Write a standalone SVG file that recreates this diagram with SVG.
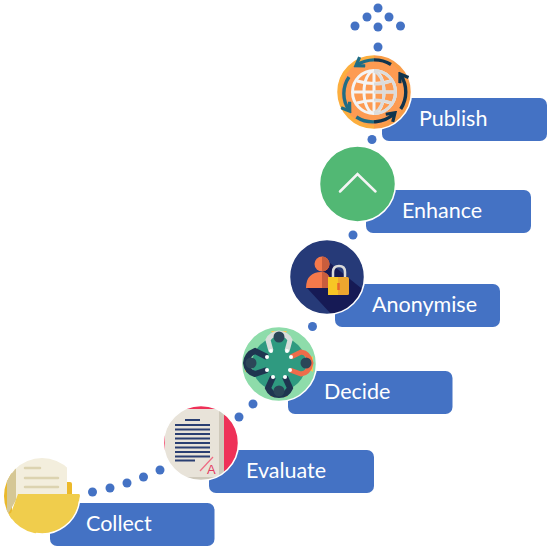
<svg xmlns="http://www.w3.org/2000/svg" width="549" height="549" viewBox="0 0 549 549">
<style>
.bar{fill:#4472c4}
.lbl{font-family:"Lato","Open Sans",sans-serif;font-size:21.500px;fill:#fff}
.dot{fill:#4472c4}
.ring{fill:none;stroke:#fff;stroke-width:1.500}
</style>
<defs>
<clipPath id="c1"><circle cx="42" cy="496" r="38"/></clipPath>
<clipPath id="c2"><circle cx="201" cy="443" r="37.500"/></clipPath>
<clipPath id="c4"><circle cx="327" cy="277" r="37.500"/></clipPath>
<linearGradient id="split" gradientUnits="userSpaceOnUse" x1="336" y1="0" x2="412" y2="0"><stop offset="0.5" stop-color="#1f6d85"/><stop offset="0.5" stop-color="#10344d"/></linearGradient>
<marker id="ahT" viewBox="0 0 10 10" refX="7" refY="5" markerWidth="3.800" markerHeight="3.800" orient="auto"><path d="M2 1L8 5L2 9" fill="none" stroke="#1f6d85" stroke-width="2.500"/></marker>
<marker id="ahN" viewBox="0 0 10 10" refX="7" refY="5" markerWidth="3.800" markerHeight="3.800" orient="auto"><path d="M2 1L8 5L2 9" fill="none" stroke="#10344d" stroke-width="2.500"/></marker>
</defs>
<g id="connectors">
<circle class="dot" cx="378" cy="8" r="4.500"/><circle class="dot" cx="367" cy="17" r="4.500"/><circle class="dot" cx="389" cy="17" r="4.500"/>
<circle class="dot" cx="355" cy="26" r="4.500"/><circle class="dot" cx="378" cy="27" r="4.500"/><circle class="dot" cx="400.500" cy="26" r="4.500"/>
<circle class="dot" cx="378" cy="47" r="4.500"/><circle class="dot" cx="372" cy="139.500" r="4.500"/><circle class="dot" cx="353" cy="235" r="4.500"/>
<circle class="dot" cx="312.500" cy="326.500" r="4.500"/><circle class="dot" cx="253" cy="404" r="4.500"/><circle class="dot" cx="239" cy="417" r="4.500"/>
<circle class="dot" cx="160" cy="470" r="4.500"/><circle class="dot" cx="143.500" cy="477" r="4.500"/><circle class="dot" cx="127" cy="483" r="4.500"/>
<circle class="dot" cx="110" cy="488" r="4.500"/><circle class="dot" cx="92.500" cy="492" r="4.500"/>
</g>
<g id="collect">
<rect class="bar" x="50" y="503" width="164.500" height="43" rx="7"/>
<text class="lbl" x="86" y="531">Collect</text>
<g clip-path="url(#c1)">
<rect x="3" y="458" width="78" height="78" fill="#fff"/>
<rect x="3" y="470" width="9" height="50" fill="#eab92b"/>
<path d="M7 475L16 460V500L7 516Z" fill="#d5c795"/>
<path d="M16 458H67V500H16Z" fill="#f3eedd"/>
<path d="M67 482H70Q72 482 72 484V496H67Z" fill="#ecb92a"/>
<path d="M25 468H40M25 478H58M25 487H58" stroke="#dcd3b0" stroke-width="2.500" stroke-linecap="round"/>
<path d="M18 494H79Q80 494 80 496L72 540H0V516L11 513Z" fill="#f0cd4c"/>
</g>
<path class="ring" d="M79.500 501A38 38 0 0 1 36 533.600"/>
</g>
<g id="evaluate">
<rect class="bar" x="209" y="450" width="165" height="43" rx="7"/>
<text class="lbl" x="246" y="478">Evaluate</text>
<circle cx="201" cy="443" r="37.500" fill="#e8e3d9"/>
<g clip-path="url(#c2)">
<rect x="163" y="405" width="76" height="4" fill="#ee3158"/>
<rect x="163" y="405" width="2" height="76" fill="#ee3158"/>
<rect x="224" y="405" width="15" height="76" fill="#ee3158"/>
<rect x="219" y="405" width="5" height="76" fill="#cfc9bb"/>
<rect x="163" y="477" width="60" height="4" fill="#cfc9bb"/>
</g>
<path d="M185 420H200M175 425H210M175 429.500H210M175 434H210M175 438.500H210M175 443H210M175 447.500H210M175 452H210M175 456.500H210M175 460.500H195" stroke="#2a3f72" stroke-width="2"/>
<path d="M200 471L213 457" stroke="#ee6a82" stroke-width="1.200"/>
<text x="207" y="473.500" font-family="Liberation Sans,sans-serif" font-size="13" fill="#e33a60">A</text>
<circle class="ring" cx="201" cy="443" r="37.500"/>
</g>
<g id="decide">
<rect class="bar" x="288" y="371" width="164.500" height="43" rx="7"/>
<text class="lbl" x="324" y="399">Decide</text>
<g transform="translate(279 364)">
<circle r="37.500" fill="#8edcaa"/>
<path d="M-8 -33H8L5 -28H-5ZM-8 33H8L5 28H-5ZM-34 -8V8L-29 5V-5ZM34 -8V8L29 5V-5Z" fill="#f3c958"/>
<circle r="27" fill="#2f9a80"/>
<path d="M-8 -13L-11 -24Q-8 -30 0 -31Q8 -30 11 -24L8 -13" fill="none" stroke="#d9dedb" stroke-width="5"/>
<path d="M12 -7L22 -12Q30 -11 32 -1Q30 9 22 10L11 6" fill="none" stroke="#ef6c4a" stroke-width="5"/>
<path d="M-12 -7L-24 -13Q-32 -10 -33 -1Q-32 8 -24 10L-12 6" fill="none" stroke="#1f3550" stroke-width="6"/>
<path d="M-6 13L-11 24Q-8 31 0 31Q8 31 11 24L6 13" fill="none" stroke="#1f3550" stroke-width="6"/>
<circle cy="-27" r="5.500" fill="#2b4658"/><circle cx="-28" cy="-1" r="5.500" fill="#2b4658"/><circle cx="27" cy="-1" r="5.500" fill="#2b4658"/><circle cy="27" r="5.500" fill="#2b4658"/>
<g fill="#fff"><circle cx="-8" cy="-13" r="2"/><circle cx="8" cy="-13" r="2"/><circle cx="-12" cy="-7" r="2"/><circle cx="12" cy="-7" r="2"/><circle cx="-12" cy="6" r="2"/><circle cx="11" cy="6" r="2"/><circle cx="-6" cy="13" r="2"/><circle cx="6" cy="13" r="2"/></g>
<circle class="ring" r="37.500"/>
</g>
</g>
<g id="anonymise">
<rect class="bar" x="335" y="284" width="165" height="43" rx="7"/>
<text class="lbl" x="372" y="312">Anonymise</text>
<circle cx="327" cy="277" r="37.500" fill="#263a78"/>
<path d="M307 288L332 315H356L366 292L330 263Z" fill="#161a55" clip-path="url(#c4)"/>
<circle cx="322" cy="264" r="7.500" fill="#f5794b"/>
<path d="M306 288C306 277 312 272 321 272C328 272 331 277 332 288Z" fill="#f5794b"/>
<path d="M322 256.500A7.500 7.500 0 0 1 322 271.500ZM322 272C328 272 331 277 332 288H322Z" fill="#c95d3d"/>
<path d="M333 278V272Q333 266 339 266Q345 266 345 272V278" fill="none" stroke="#d9d9d9" stroke-width="2.500"/>
<rect x="328" y="277" width="21" height="18" rx="1.500" fill="#eda62f"/>
<path d="M328 277H338V295H328Z" fill="#f7c525"/>
<path d="M338.500 283V290" stroke="#e8662d" stroke-width="2.500"/>
<circle class="ring" cx="327" cy="277" r="37.500"/>
</g>
<g id="enhance">
<rect class="bar" x="366" y="190" width="165" height="43" rx="7"/>
<text class="lbl" x="402" y="218">Enhance</text>
<circle cx="357.500" cy="184" r="38" fill="#52b874" stroke="#fff" stroke-width="1.500"/>
<path d="M340 191.500L357.500 174L375.500 191.500" fill="none" stroke="#f4f4f4" stroke-width="2.500" stroke-linecap="round"/>
</g>
<g id="publish">
<rect class="bar" x="382" y="98" width="165" height="43" rx="7"/>
<text class="lbl" x="419" y="126">Publish</text>
<circle cx="374" cy="92" r="37.500" fill="#fcae3e"/>
<path d="M374 54.500A37.500 37.500 0 0 1 374 129.500Z" fill="#f99c47"/>
<circle cx="374" cy="92" r="33" fill="#fd9b52"/>
<circle class="ring" cx="374" cy="92" r="37.500"/>
<g fill="none" stroke="#f4f4f4" stroke-width="3">
<circle cx="374" cy="92" r="21.500"/>
<ellipse cx="374" cy="92" rx="10" ry="21"/>
<path d="M374 71V113M353 92H395M357 81Q374 86 391 81M357 103Q374 98 391 103"/>
</g>
<g fill="none" stroke="#dcdcdc" stroke-width="3">
<path d="M374 70.500A21.500 21.500 0 0 1 374 113.500"/>
<path d="M374 71Q384 76 384 92Q384 108 374 113M374 92H395M374 84Q384 84 391 81M374 100Q384 100 391 103"/>
</g>
<g fill="none" stroke="url(#split)" stroke-width="3.400">
<path d="M391 64.500A32 32 0 0 0 357 65" marker-end="url(#ahT)"/>
<path d="M349 77A29 29 0 0 0 349 110" marker-end="url(#ahT)"/>
<path d="M356.300 117A31 31 0 0 0 394 113.700" marker-end="url(#ahN)"/>
<path d="M400.700 109A31 31 0 0 0 400.700 75" marker-end="url(#ahN)"/>
</g>
</g>
</svg>
